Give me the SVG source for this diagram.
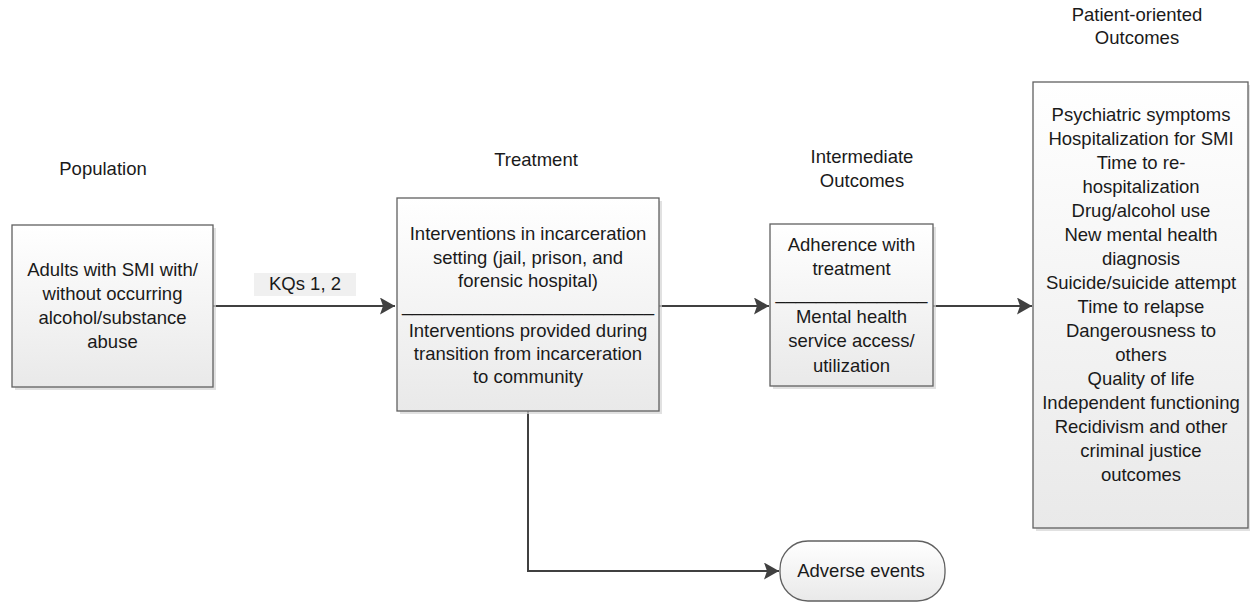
<svg xmlns="http://www.w3.org/2000/svg" width="1250" height="602" viewBox="0 0 1250 602">
<style>
text { font-family: "Liberation Sans", Arial, sans-serif; font-size: 18.5px; fill: #1a1a1a; text-anchor: middle; }
.box { fill: url(#g); stroke: #606060; stroke-width: 1.3; }
.shadow { fill: #d4d4d4; opacity: 0.7; }
.conn { fill: none; stroke: #404040; stroke-width: 2; }
</style>
<defs>
<linearGradient id="g" x1="0" y1="0" x2="0" y2="1">
<stop offset="0" stop-color="#ffffff"/>
<stop offset="1" stop-color="#e9e9e9"/>
</linearGradient>
<marker id="arr" markerUnits="userSpaceOnUse" markerWidth="16" markerHeight="18" refX="15" refY="8.5" orient="auto">
<path d="M0,0 L15,8.5 L0,17 L3,8.5 Z" fill="#404040"/>
</marker>
</defs>

<g id="headers">
<text x="103" y="175">Population</text>
<text x="536" y="166">Treatment</text>
<text x="862" y="163">Intermediate</text>
<text x="862" y="187">Outcomes</text>
<text x="1137" y="21">Patient-oriented</text>
<text x="1137" y="44">Outcomes</text>
</g>

<g id="connectors">
<path class="conn" d="M213,306 L395,306" marker-end="url(#arr)"/>
<path class="conn" d="M659,306 L769,306" marker-end="url(#arr)"/>
<path class="conn" d="M933,306 L1032,306" marker-end="url(#arr)"/>
<path class="conn" d="M528,411 L528,571 L779,571" marker-end="url(#arr)"/>
<g id="kq-label">
<rect x="254" y="273" width="102" height="23" fill="#f0f0f0"/>
<text x="305" y="290">KQs 1, 2</text>
</g>
</g>

<g id="population">
<rect class="shadow" x="15" y="228" width="201" height="162"/>
<rect class="box" x="12" y="225" width="201" height="162"/>
<text x="112.5" y="276">Adults with SMI with/</text>
<text x="112.5" y="300">without occurring</text>
<text x="112.5" y="324">alcohol/substance</text>
<text x="112.5" y="348">abuse</text>
</g>

<g id="treatment">
<rect class="shadow" x="400" y="201" width="262" height="213"/>
<rect class="box" x="397" y="198" width="262" height="213"/>
<text x="528" y="240">Interventions in incarceration</text>
<text x="528" y="264">setting (jail, prison, and</text>
<text x="528" y="287">forensic hospital)</text>
<text x="528" y="311" textLength="252" lengthAdjust="spacingAndGlyphs">_________________________</text>
<text x="528" y="337">Interventions provided during</text>
<text x="528" y="360">transition from incarceration</text>
<text x="528" y="383">to community</text>
</g>

<g id="intermediate">
<rect class="shadow" x="773" y="227" width="163" height="162"/>
<rect class="box" x="770" y="224" width="163" height="162"/>
<text x="851.5" y="251">Adherence with</text>
<text x="851.5" y="275">treatment</text>
<text x="851.5" y="299" textLength="152" lengthAdjust="spacingAndGlyphs">_______________</text>
<text x="851.5" y="323">Mental health</text>
<text x="851.5" y="347">service access/</text>
<text x="851.5" y="372">utilization</text>
</g>

<g id="patient-outcomes">
<rect class="shadow" x="1036" y="85" width="216" height="446"/>
<rect class="box" x="1033" y="82" width="215" height="446"/>
<text x="1141" y="121">Psychiatric symptoms</text>
<text x="1141" y="145">Hospitalization for SMI</text>
<text x="1141" y="169">Time to re-</text>
<text x="1141" y="193">hospitalization</text>
<text x="1141" y="217">Drug/alcohol use</text>
<text x="1141" y="241">New mental health</text>
<text x="1141" y="265">diagnosis</text>
<text x="1141" y="289">Suicide/suicide attempt</text>
<text x="1141" y="313">Time to relapse</text>
<text x="1141" y="337">Dangerousness to</text>
<text x="1141" y="361">others</text>
<text x="1141" y="385">Quality of life</text>
<text x="1141" y="409">Independent functioning</text>
<text x="1141" y="433">Recidivism and other</text>
<text x="1141" y="457">criminal justice</text>
<text x="1141" y="481">outcomes</text>
</g>

<g id="adverse-events">
<rect class="box" x="780" y="541" width="165" height="60" rx="28" ry="28"/>
<text x="861" y="577">Adverse events</text>
</g>
</svg>
